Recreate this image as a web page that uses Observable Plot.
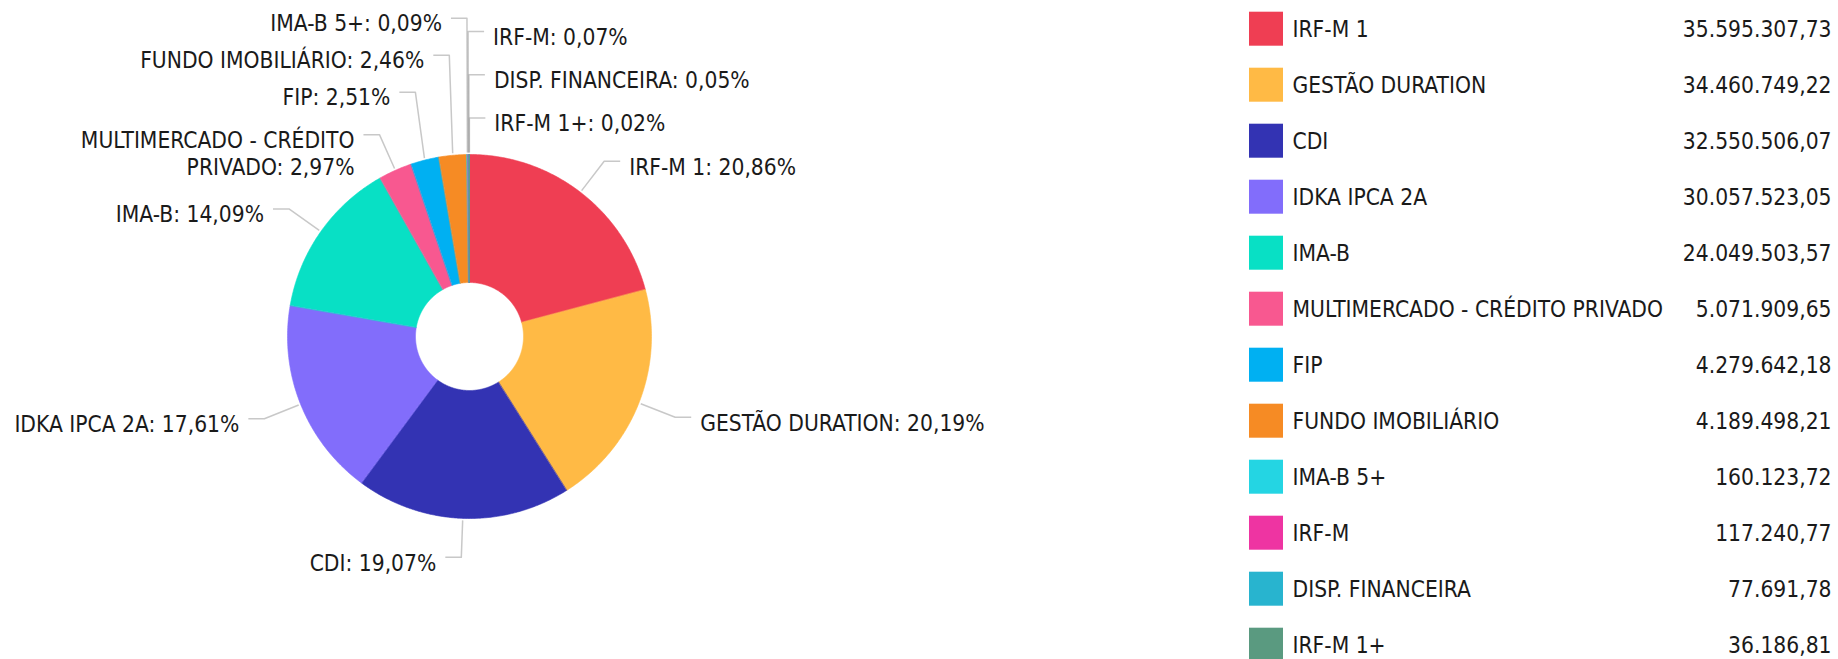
<!DOCTYPE html>
<html><head><meta charset="utf-8">
<script src="https://cdn.jsdelivr.net/npm/d3@7"></script>
<script src="https://cdn.jsdelivr.net/npm/@observablehq/plot@0.6"></script>
<style>html,body{margin:0;padding:0;background:#fff}#chart svg{display:block}</style>
</head><body><div id="chart"></div>
<script>
// ---- data ----
const names = ["IRF-M 1", "GESTÃO DURATION", "CDI", "IDKA IPCA 2A", "IMA-B",
  "MULTIMERCADO - CRÉDITO PRIVADO", "FIP", "FUNDO IMOBILIÁRIO", "IMA-B 5+",
  "IRF-M", "DISP. FINANCEIRA", "IRF-M 1+"];
const values = [35595307.73, 34460749.22, 32550506.07, 30057523.05, 24049503.57,
  5071909.65, 4279642.18, 4189498.21, 160123.72, 117240.77, 77691.78, 36186.81];
const colors = ["#EF3E53", "#FFBA45", "#3333B3", "#826DFB", "#08E0C5", "#F85890",
  "#00B0F2", "#F68B24", "#24D5E3", "#EE34A2", "#28B4CF", "#5A9A80"];

// ---- layout constants ----
const W = 1838, H = 659;
const FONT = "'DejaVu Sans Condensed', 'DejaVu Sans', sans-serif";
const FS = 22.6;
const cx = 469, cy = 336, R = 182, R0 = 54, RL = 221;
const SEG = 16, PAD = 9, TOP_Y = 31;
const LEG_X = 1249, LEG_Y = 11.7, LEG_STEP = 56, LEG_SQ = 34, LEG_TX = 1292, LEG_VX = 1831;

const locale = d3.formatLocale({decimal: ",", thousands: ".", grouping: [3], currency: ["R$ ", ""]});
const fmtVal = locale.format(",.2f");
const fmtPct = locale.format(".2f");

const total = d3.sum(values);
let cum = 0;
const slices = names.map((name, i) => {
  const a0 = cum / total * 2 * Math.PI; cum += values[i];
  const a1 = cum / total * 2 * Math.PI;
  return {name, i, value: values[i], a0, a1, mid: (a0 + a1) / 2, pct: values[i] / total * 100};
});
const px = (rad, a) => cx + rad * Math.sin(a);
const py = (rad, a) => cy - rad * Math.cos(a);

// slice polygons (donut sectors)
const slicePts = [];
for (const s of slices) {
  const n = Math.max(2, Math.ceil((s.a1 - s.a0) / (Math.PI / 360)));
  for (let k = 0; k <= n; k++) { const a = s.a0 + (s.a1 - s.a0) * k / n; slicePts.push({name: s.name, x: px(R, a), y: py(R, a)}); }
  for (let k = n; k >= 0; k--) { const a = s.a0 + (s.a1 - s.a0) * k / n; slicePts.push({name: s.name, x: px(R0, a), y: py(R0, a)}); }
}

// label wrapping
const ctx = document.createElement("canvas").getContext("2d");
ctx.font = `${FS}px ${FONT}`;
function wrap(text, maxW) {
  const words = text.split(" "), lines = [];
  let cur = "";
  for (const w of words) {
    const t = cur ? cur + " " + w : w;
    if (cur && ctx.measureText(t).width > maxW) { lines.push(cur); cur = w; } else cur = t;
  }
  lines.push(cur);
  return lines;
}

const labels = slices.map(s => {
  const lines = wrap(`${s.name}: ${fmtPct(s.pct)}%`, 330);
  return {...s, lines, text: lines.join("\n"), side: s.mid < Math.PI ? "right" : "left", ny: py(RL, s.mid), key: s.mid, moved: false};
});
const hgt = l => 26 + 11 * l.lines.length;
function stack(list) {
  for (let k = list.length - 1; k >= 0; k--) {
    const l = list[k];
    l.y = k === list.length - 1 ? l.ny : Math.min(l.ny, list[k + 1].y - (hgt(l) + hgt(list[k + 1])) / 2);
  }
}
let left = labels.filter(l => l.side === "left").sort((a, b) => b.key - a.key);
stack(left);
for (const l of left) if (l.y < 10) { l.side = "right"; l.moved = true; l.key = l.mid - 2 * Math.PI; }
left = left.filter(l => l.side === "left");
stack(left);
const right = labels.filter(l => l.side === "right").sort((a, b) => a.key - b.key);
stack(right);
// labels that overflowed the left column are spread evenly above the first right label
const movedList = right.filter(l => l.moved);
const firstFixed = right.find(l => !l.moved);
if (movedList.length && firstFixed) {
  const step = (firstFixed.y - TOP_Y) / movedList.length;
  movedList.forEach((l, k) => { l.y = TOP_Y + k * step; });
}

const leaderPts = [];
for (const l of labels) {
  const dir = l.side === "right" ? 1 : -1;
  const ex = px(RL, l.mid);
  leaderPts.push({name: l.name, x: px(R + 2, l.mid), y: py(R + 2, l.mid)});
  leaderPts.push({name: l.name, x: ex, y: l.y});
  leaderPts.push({name: l.name, x: ex + dir * SEG, y: l.y});
  l.tx = ex + dir * (SEG + PAD);
}

const legend = slices.map(s => ({
  name: s.name, val: fmtVal(s.value),
  y1: LEG_Y + s.i * LEG_STEP, y2: LEG_Y + s.i * LEG_STEP + LEG_SQ,
  yc: LEG_Y + s.i * LEG_STEP + LEG_SQ / 2
}));

const textOpts = {fill: "#1a1a1a", fontSize: FS, lineAnchor: "top", dy: -6, lineHeight: 1.2};

const chart = Plot.plot({
  width: W, height: H, margin: 0,
  x: {type: "linear", domain: [0, W], range: [0, W], axis: null},
  y: {type: "linear", domain: [0, H], range: [0, H], axis: null},
  color: {domain: names, range: colors},
  style: {fontFamily: FONT, fontSize: FS + "px", background: "#fff", overflow: "hidden"},
  marks: [
    Plot.line(slicePts, {x: "x", y: "y", z: "name", fill: "name", stroke: "name", strokeWidth: 0.6, curve: "linear-closed"}),
    Plot.line(leaderPts, {x: "x", y: "y", z: "name", stroke: "#9a9a9a", strokeOpacity: 0.55, strokeWidth: 1.5, strokeLinecap: "butt"}),
    Plot.text(labels.filter(l => l.side === "left"), {x: "tx", y: "y", text: "text", textAnchor: "end", ...textOpts}),
    Plot.text(labels.filter(l => l.side === "right"), {x: "tx", y: "y", text: "text", textAnchor: "start", ...textOpts}),
    Plot.rect(legend, {x1: () => LEG_X, x2: () => LEG_X + LEG_SQ, y1: "y1", y2: "y2", fill: "name"}),
    Plot.text(legend, {x: () => LEG_TX, y: "yc", text: "name", textAnchor: "start", fill: "#1a1a1a", fontSize: FS, dy: 1}),
    Plot.text(legend, {x: () => LEG_VX, y: "yc", text: "val", textAnchor: "end", fill: "#1a1a1a", fontSize: FS, dy: 1})
  ]
});
document.getElementById("chart").append(chart);
</script>
</body></html>
